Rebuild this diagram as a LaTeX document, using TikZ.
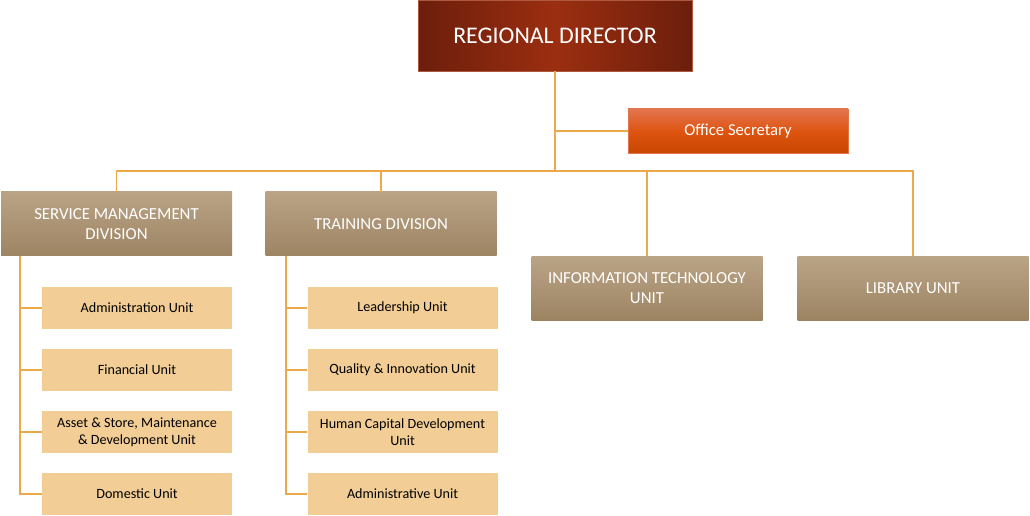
\documentclass[tikz,border=0pt]{standalone}
\usepackage{fontspec}
\setmainfont{Carlito}
\usetikzlibrary{positioning}

\definecolor{dirdark}{HTML}{6C1E0C}
\definecolor{dirmid}{HTML}{9B2E10}
\definecolor{sectop}{HTML}{E2744E}
\definecolor{secmid}{HTML}{DE5511}
\definecolor{secbot}{HTML}{C84600}
\definecolor{divtop}{HTML}{BAA486}
\definecolor{divbot}{HTML}{9C8463}
\definecolor{unitfill}{HTML}{F2CD95}
\definecolor{linkcol}{HTML}{EBA94C}

\begin{document}
\begin{tikzpicture}[
    x=0.75pt, y=-0.75pt,
    % Set global spacing
    node distance=14.6pt,
    % Define box styles
    base/.style={inner sep=0pt, align=center},
    director/.style={base, draw=dirmid!80!white, left color=dirdark, right color=dirdark, middle color=dirmid,
        minimum width=205.5pt, minimum height=53.25pt, text=white, font=\fontsize{17.9}{21}\selectfont},
    secretary/.style={base, draw=sectop, top color=sectop, bottom color=secbot, middle color=secmid,
        minimum width=165pt, minimum height=33pt, text=white, font=\fontsize{12.5}{15}\selectfont},
    division/.style={base, top color=divtop, bottom color=divbot,
        minimum width=173.25pt, minimum height=48pt, text=white, font=\fontsize{12.6}{15}\selectfont},
    unit/.style={base, fill=unitfill, minimum width=142.5pt, minimum height=31.5pt,
        text=black, font=\fontsize{10.6}{12.75}\selectfont},
    % Connector style
    link/.style={draw=linkcol, line width=1.3pt}
]
    \useasboundingbox (0,0) rectangle (1030,516);

    % --- NODES ---
    \node[director]  (dir) at (555,35.5) {REGIONAL DIRECTOR};
    \node[secretary] (sec) at (738,131) {Office Secretary};

    % Divisions
    \node[division] (smd)   at (116.5,224) {SERVICE MANAGEMENT\\DIVISION};
    \node[division] (train) at (381,224) {TRAINING DIVISION};
    \node[division] (it)    at (647,288.5) {INFORMATION TECHNOLOGY\\UNIT};
    \node[division] (lib)   at (913,288.5) {LIBRARY UNIT};

    % Service management units
    \node[unit] (adm) at (137,308) {Administration Unit};
    \node[unit, below=of adm] (fin) {Financial Unit};
    \node[unit, below=of fin] (ast) {Asset \& Store, Maintenance\\\& Development Unit};
    \node[unit, below=of ast] (dom) {Domestic Unit};

    % Training units
    \node[unit] (lead) at (402.5,308) {Leadership Unit};
    \node[unit, below=of lead] (qual) {Quality \& Innovation Unit};
    \node[unit, below=of qual] (hcd) {Human Capital Development\\Unit};
    \node[unit, below=of hcd] (admu) {Administrative Unit};

    % --- EDGES ---
    \coordinate (busL) at (116.5,171);
    \coordinate (busR) at (913,171);

    \draw[link] (dir.south) |- (sec.west);
    \draw[link] (dir.south) -- (dir.south |- busL);
    \draw[link] (smd.north) -- (busL) -- (busR) -- (lib.north);
    \draw[link] (train.north) -- (train.north |- busL);
    \draw[link] (it.north) -- (it.north |- busL);

    % Unit branches
    \foreach \u in {adm,fin,ast,dom}
        \draw[link] ([xshift=14.25pt]smd.south west) |- (\u.west);
    \foreach \u in {lead,qual,hcd,admu}
        \draw[link] ([xshift=15.4pt]train.south west) |- (\u.west);

\end{tikzpicture}
\end{document}
